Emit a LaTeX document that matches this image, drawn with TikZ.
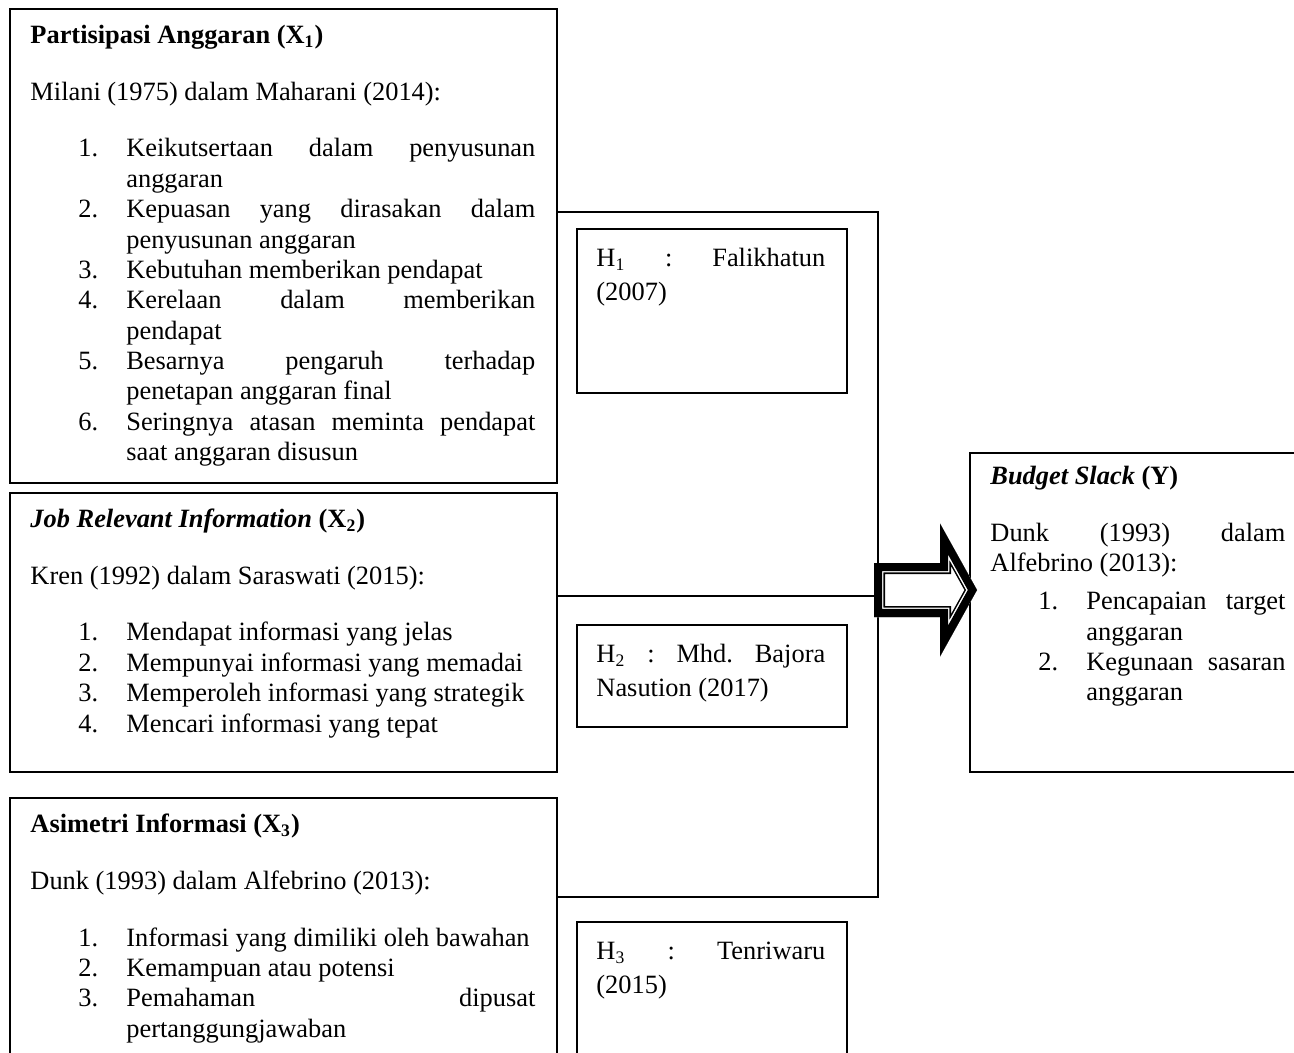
\documentclass[tikz,border=0pt]{standalone}
\usepackage{fontspec}
\setmainfont{Liberation Serif}
\frenchspacing
\setlength{\parindent}{0pt}
\setlength{\parskip}{0pt}
\hyphenpenalty=10000
\exhyphenpenalty=10000
\tolerance=10000

\newlength\px
\setlength\px{0.4545pt}
% numbered item with hanging indent
\newcommand\itm[2]{\par\hangindent=43.6pt\hangafter=1\noindent\hspace*{21.8pt}\makebox[21.8pt][l]{#1}#2\par}
\newcommand\gap[1]{\par\vspace{#1}}
\newcommand\arrowpath{(874,563) -- (940,563) -- (940,523.5) -- (977,590) -- (940,656.5) -- (940,617) -- (874,617) -- cycle}

\begin{document}
\begin{tikzpicture}[x=0.4545pt, y=-0.4545pt,
  box/.style={draw, line width=1pt, inner sep=0pt, anchor=north west},
  txt/.style={anchor=north west, inner sep=0pt, align=justify, font=\fontsize{12}{13.8}\selectfont},
  hyp/.style={txt, text width=104pt, font=\fontsize{12}{15.5}\selectfont}]
\useasboundingbox (0,0) rectangle (1294,1052);
\clip (0,0) rectangle (1294,1052);
% Variable boxes
\node[box, minimum width=547*\px, minimum height=474*\px] (x1) at (9,7.5) {};
\node[box, minimum width=547*\px, minimum height=279.5*\px] (x2) at (9,491.5) {};
\node[box, minimum width=547*\px, minimum height=320*\px] (x3) at (9,797) {};
\node[box, minimum width=337*\px, minimum height=319*\px] (y) at (969,452) {};
% Hypothesis boxes
\node[box, minimum width=270*\px, minimum height=164*\px] (h1) at (576,228) {};
\node[box, minimum width=270*\px, minimum height=102*\px] (h2) at (576,624) {};
\node[box, minimum width=270*\px, minimum height=180*\px] (h3) at (576,921) {};
% Texts
\node[txt, text width=229.5pt] (x1t) at (30,21.75) {\strut\textbf{Partisipasi Anggaran (X\textsubscript{1})}
\gap{12pt}Milani (1975) dalam Maharani (2014):
\gap{12pt}\itm{1.}{Keikutsertaan dalam penyusunan \linebreak anggaran}
\itm{2.}{Kepuasan yang dirasakan dalam \linebreak penyusunan anggaran}
\itm{3.}{Kebutuhan memberikan pendapat}
\itm{4.}{Kerelaan dalam memberikan \linebreak pendapat}
\itm{5.}{Besarnya pengaruh terhadap \linebreak penetapan anggaran final}
\itm{6.}{Seringnya atasan meminta pendapat \linebreak saat anggaran disusun}};
\node[txt, text width=229.5pt] (x2t) at (30,505.75) {\strut\textbf{\textit{Job Relevant Information} (X\textsubscript{2})}
\gap{12pt}Kren (1992) dalam Saraswati (2015):
\gap{12pt}\itm{1.}{Mendapat informasi yang jelas}
\itm{2.}{Mempunyai informasi yang memadai}
\itm{3.}{Memperoleh informasi yang strategik}
\itm{4.}{Mencari informasi yang tepat}};
\node[txt, text width=229.5pt] (x3t) at (30,810.75) {\strut\textbf{Asimetri Informasi (X\textsubscript{3})}
\gap{12pt}Dunk (1993) dalam Alfebrino (2013):
\gap{12pt}\itm{1.}{Informasi yang dimiliki oleh bawahan}
\itm{2.}{Kemampuan atau potensi}
\itm{3.}{Pemahaman dipusat \linebreak pertanggungjawaban}};
\node[txt, text width=134.1pt] (yt) at (990,462.75) {\strut\textbf{\textit{Budget Slack} (Y)}
\gap{12pt}Dunk (1993) dalam \linebreak Alfebrino (2013):
\gap{3.6pt}\itm{1.}{Pencapaian target \linebreak anggaran}
\itm{2.}{Kegunaan sasaran \linebreak anggaran}};
\node[hyp] (h1t) at (596,242.1) {\strut H\textsubscript{1} : Falikhatun \linebreak (2007)};
\node[hyp] (h2t) at (596,638.1) {\strut H\textsubscript{2} : Mhd. Bajora \linebreak Nasution (2017)};
\node[hyp] (h3t) at (596,935.1) {\strut H\textsubscript{3} : Tenriwaru \linebreak (2015)};
% Connectors
\coordinate (j1) at (878,212);
\coordinate (j2) at (878,596);
\coordinate (j3) at (878,897);
\draw[line width=1pt] (x1.east |- j1) -- (j1) -- (j3) -- (x3.east |- j3);
\draw[line width=1pt] (x2.east |- j2) -- (j2);
% Block arrow
\begin{scope}
\clip \arrowpath;
\fill[white] \arrowpath;
\draw[line width=10pt] \arrowpath;
\draw[white, line width=8.6pt] \arrowpath;
\draw[line width=7.3pt] \arrowpath;
\end{scope}
\end{tikzpicture}
\end{document}
